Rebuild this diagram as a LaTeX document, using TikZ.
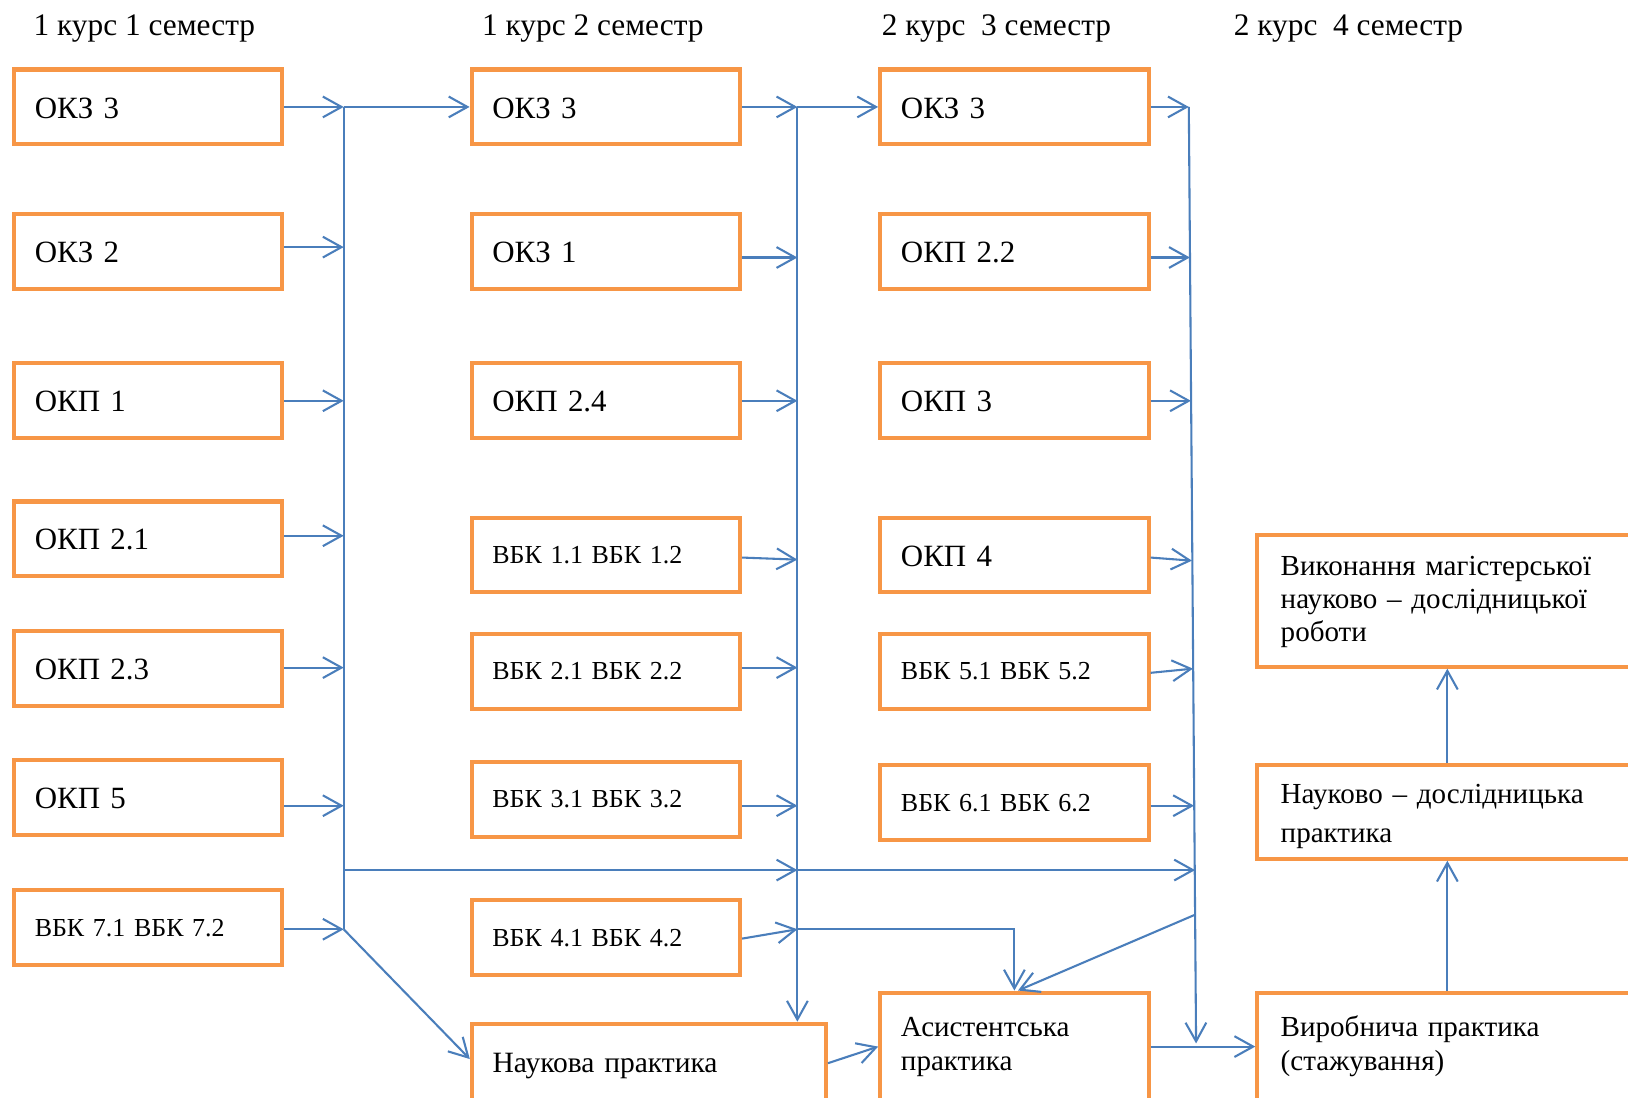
\documentclass[tikz,border=0pt]{standalone}
\usepackage{fontspec}
\setmainfont{Liberation Serif}
\usetikzlibrary{arrows.meta,calc}
\definecolor{bor}{HTML}{F79646}
\definecolor{lnb}{HTML}{4A7EBB}
\tikzset{
  bx/.style={draw=bor, line width=2pt, rectangle, inner xsep=10pt, inner ysep=0pt,
    align=left, minimum height=36pt, text width=109.25pt,
    text height=10.66pt, text depth=0pt,
    font=\fontsize{14.9}{17}\selectfont},
  vbk/.style={font=\fontsize{12.5}{15}\selectfont, text height=8.2pt},
  wide/.style={text width=150.5pt, font=\fontsize{14.2}{17}\selectfont, text height=8.4pt},
  rbx/.style={inner xsep=11.25pt, text width=160.5pt},
  sm/.style={font=\fontsize{14}{16}\selectfont},
  twol/.style={text height=9.67pt, text depth=19pt},
  ttl/.style={inner sep=0pt, anchor=base west, font=\fontsize{15.1}{17}\selectfont},
  arr/.style={draw=lnb, line width=1pt, -{Straight Barb[length=9pt,width=10pt,line width=1pt]}},
  bus/.style={draw=lnb, line width=0.8pt},
}
\begin{document}
\begin{tikzpicture}[x=0.5pt,y=-0.5pt]
\clip (0,0) rectangle (1568,1057);
\fill[white] (0,0) rectangle (1568,1057);
% titles
\node[ttl] (t1) at (32,34) {1 курс 1 семестр};
\node[ttl] (t2) at (464,34) {1 курс 2 семестр};
\node[ttl] (t3) at (849,34) {2 курс\ \ 3 семестр};
\node[ttl] (t4) at (1188,34) {2 курс\ \ 4 семестр};
% column 1
\node[bx] (a1) at (142.75,103) {ОКЗ 3};
\node[bx] (a2) at (142.75,242) {ОКЗ 2};
\node[bx] (a3) at (142.75,386) {ОКП 1};
\node[bx] (a4) at (142.75,519) {ОКП 2.1};
\node[bx] (a5) at (142.75,644) {ОКП 2.3};
\node[bx] (a6) at (142.75,768) {ОКП 5};
\node[bx,vbk] (a7) at (142.75,893.5) {ВБК 7.1 ВБК 7.2};
% column 2
\node[bx] (m1) at (583.5,103) {ОКЗ 3};
\node[bx] (m2) at (583.5,242) {ОКЗ 1};
\node[bx] (m3) at (583.5,386) {ОКП 2.4};
\node[bx,vbk] (m4) at (583.5,534.5) {ВБК 1.1 ВБК 1.2};
\node[bx,vbk] (m5) at (583.5,646.5) {ВБК 2.1 ВБК 2.2};
\node[bx,vbk] (m6) at (583.5,770) {ВБК 3.1 ВБК 3.2};
\node[bx,vbk] (m7) at (583.5,903) {ВБК 4.1 ВБК 4.2};
\node[bx,wide,minimum height=39pt] (m8) at (625,1025) {Наукова практика};
% column 3
\node[bx] (k1) at (977,103) {ОКЗ 3};
\node[bx] (k2) at (977,242) {ОКП 2.2};
\node[bx] (k3) at (977,386) {ОКП 3};
\node[bx] (k4) at (977,534.5) {ОКП 4};
\node[bx,vbk] (k5) at (977,646.5) {ВБК 5.1 ВБК 5.2};
\node[bx,vbk] (k6) at (977,773) {ВБК 6.1 ВБК 6.2};
\node[bx,sm,twol,minimum height=52pt] (k7) at (977,1008) {Асистентська\\практика};
% column 4
\node[bx,rbx,sm,minimum height=63.5pt,text height=10.47pt,text depth=35pt] (r1) at (1394,578.5) {Виконання магістерської\\науково – дослідницької\\роботи};
\node[bx,rbx,minimum height=45pt,font=\fontsize{14}{18.5}\selectfont,text height=13.77pt,text depth=21.5pt] (r2) at (1394,782) {Науково – дослідницька\\практика};
\node[bx,rbx,sm,twol,minimum height=52pt] (r3) at (1394,1008) {Виробнича практика\\(стажування)};
% bus junctions
\coordinate (j11) at (331,103);
\coordinate (j12) at (331,238);
\coordinate (j13) at (331,386);
\coordinate (j14) at (331,516);
\coordinate (j15) at (331,643);
\coordinate (j16) at (331,776);
\coordinate (j17) at (331,895);
\coordinate (j21) at (768,103);
\coordinate (j22) at (768,248);
\coordinate (j23) at (768,386);
\coordinate (j24) at (768,539);
\coordinate (j25) at (768,643);
\coordinate (j26) at (768,776);
\coordinate (j27) at (768,895);
\coordinate (j31) at (1145,103);
\coordinate (j32) at (1146,248);
\coordinate (j33) at (1147,386);
\coordinate (j34) at (1148,540);
\coordinate (j35) at (1149,644);
\coordinate (j36) at (1150,776);
\coordinate (j38) at (1151,881);
\coordinate (b3b) at (1152,1005);
\coordinate (h1) at (331,838);
\coordinate (h2) at (768,838);
\coordinate (h3) at (1151,838);
% bus lines
\draw[bus] (j11) -- (j17);
\draw[arr] (j21) -- (j21 |- m8.north);
\draw[arr] (j31) -- (b3b);
% column 1 arrows
\draw[arr] (a1.east |- j11) -- (j11);
\draw[arr] (a2.east |- j12) -- (j12);
\draw[arr] (a3.east |- j13) -- (j13);
\draw[arr] (a4.east |- j14) -- (j14);
\draw[arr] (a5.east |- j15) -- (j15);
\draw[arr] (a6.east |- j16) -- (j16);
\draw[arr] (a7.east |- j17) -- (j17);
\draw[arr] (j11) -- (m1.west |- j11);
\draw[arr] (h1) -- (h2);
\draw[arr] (h2) -- (h3);
\draw[arr] (j17) -- ([yshift=2.5pt]m8.west);
% column 2 arrows
\draw[arr] (m1.east |- j21) -- (j21);
\draw[arr] (m2.east |- j22) -- (j22);
\draw[arr] (m3.east |- j23) -- (j23);
\draw[arr] ([yshift=-1.25pt]m4.east) -- (j24);
\draw[arr] (m5.east |- j25) -- (j25);
\draw[arr] (m6.east |- j26) -- (j26);
\draw[arr] ([yshift=-0.5pt]m7.east) -- (j27);
\draw[arr] (j21) -- (k1.west |- j21);
\draw[arr] (j27) -| (k7.north);
\draw[arr] ([yshift=0.5pt]m8.east) -- (k7.west);
% column 3 arrows
\draw[arr] (k1.east |- j31) -- (j31);
\draw[arr] (k2.east |- j32) -- (j32);
\draw[arr] (k3.east |- j33) -- (j33);
\draw[arr] ([yshift=-1.25pt]k4.east) -- (j34);
\draw[arr] ([yshift=-0.75pt]k5.east) -- (j35);
\draw[arr] (k6.east |- j36) -- (j36);
\draw[arr] (j38) -- ([xshift=1.75pt]k7.north);
\draw[arr] (k7.east) -- (r3.west);
% column 4 arrows
\draw[arr] (r3.north) -- (r2.south);
\draw[arr] (r2.north) -- (r1.south);
\end{tikzpicture}
\end{document}
